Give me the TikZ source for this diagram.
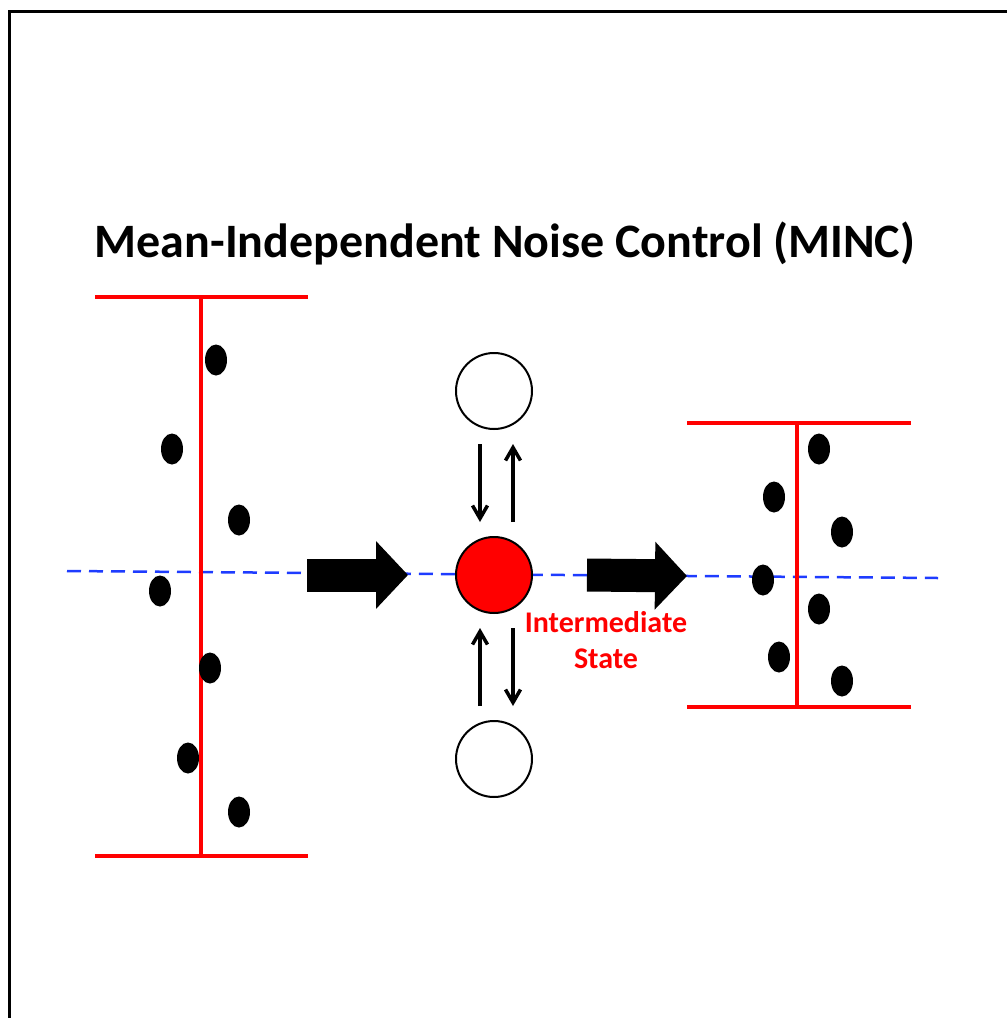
\documentclass[tikz,border=0pt]{standalone}
\usepackage{fontspec}
\setmainfont{Carlito}
\usetikzlibrary{shapes.geometric, arrows.meta, positioning}
\definecolor{barred}{HTML}{FF0000}
\definecolor{meanblue}{HTML}{1E3CFF}

\begin{document}
\begin{tikzpicture}[
  x=1pt, y=-1pt,
  bar/.style={draw=barred, line width=4.5pt},
  dot/.style={ellipse, fill=black, minimum width=22pt, minimum height=31pt, inner sep=0pt},
  ring/.style={circle, draw=black, line width=2pt, fill=#1, minimum size=76pt, inner sep=0pt},
  held/.style={ring=white},
  inter/.style={ring=barred},
  flow/.style={-{Straight Barb[length=13pt, width=15pt, line width=3.5pt]}, line width=3.5pt, shorten >=14pt, shorten <=14pt},
  block/.style={-{Triangle[length=32pt, width=66pt]}, line width=33pt},
  mean/.style={draw=meanblue, dash pattern=on 14pt off 8pt, line width=2.5pt}
]
\path[use as bounding box] (0,0) rectangle (1007,1018);

% Frame
\draw[line width=3pt] (9,1018) -- (9,11) -- (1007,11);

% Title
\node[font=\fontsize{48}{58}\selectfont\bfseries, anchor=base] (title) at (505,257) {Mean-Independent Noise Control (MINC)};

% Mean line
\coordinate (m0) at (67,571);
\coordinate (m1) at (938,578);
\draw[mean] (m0) -- (m1);

% Left spread
\draw[bar] (95,297) -- (308,297);
\draw[bar] (201,297) -- (201,856);
\draw[bar] (95,856) -- (308,856);
\node[dot] (l1) at (216,360) {};
\node[dot] (l2) at (172,449) {};
\node[dot] (l3) at (239,520) {};
\node[dot] (l4) at (160,591) {};
\node[dot] (l5) at (210,668) {};
\node[dot] (l6) at (188,758) {};
\node[dot] (l7) at (239,812) {};

% Right spread
\draw[bar] (687,423) -- (911,423);
\draw[bar] (797,423) -- (797,707);
\draw[bar] (687,707) -- (911,707);
\node[dot] (r1) at (819,449) {};
\node[dot] (r2) at (774,497) {};
\node[dot] (r3) at (842,532) {};
\node[dot] (r4) at (763,580) {};
\node[dot] (r5) at (819,609) {};
\node[dot] (r6) at (779,657) {};
\node[dot] (r7) at (842,681) {};

% States
\node[inter] (mid) at (494,575) {};
\node[held, above=106pt of mid] (top) {};
\node[held, below=106pt of mid] (bot) {};

% Exchange arrows
\draw[flow] ([xshift=-14pt]top.south) -- ([xshift=-14pt]mid.north);
\draw[flow] ([xshift=19pt]mid.north) -- ([xshift=19pt]top.south);
\draw[flow] ([xshift=-14pt]bot.north) -- ([xshift=-14pt]mid.south);
\draw[flow] ([xshift=19pt]mid.south) -- ([xshift=19pt]bot.north);

% Block arrows
\coordinate (inA) at (307,575);
\coordinate (inB) at (408,575);
\coordinate (outA) at (587,575);
\coordinate (outB) at (687,576);
\draw[block] (inA) -- (inB);
\draw[block] (outA) -- (outB);

% Label
\node[font=\fontsize{30}{36}\selectfont\bfseries, text=barred, align=center, anchor=base] (lbl) at (606,668) {Intermediate\\State};

\end{tikzpicture}
\end{document}
